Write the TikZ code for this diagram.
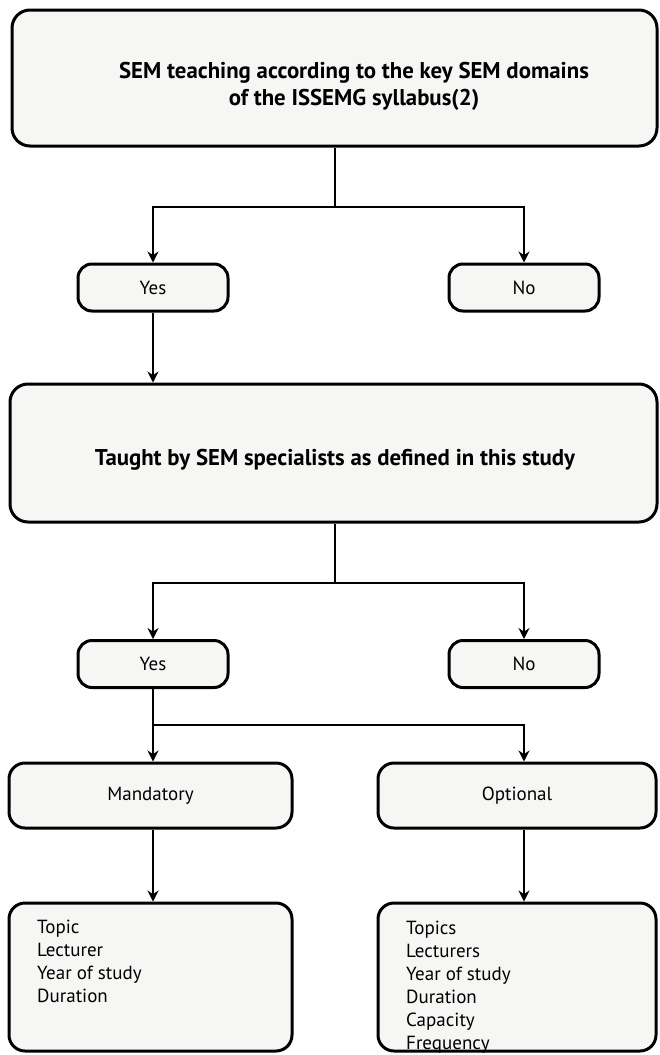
\documentclass[tikz,border=0pt]{standalone}
\usepackage{fontspec}
\setmainfont{PT Sans}
\usetikzlibrary{arrows.meta}
\definecolor{boxfill}{HTML}{F6F6F5}
\begin{document}
\begin{tikzpicture}[x=1pt,y=-1pt,
  box/.style={draw=black, line width=3pt, fill=boxfill, rounded corners=18pt, inner sep=0pt},
  pill/.style={box, rounded corners=14pt, minimum width=150pt, minimum height=47pt},
  mid/.style={box, rounded corners=16pt, minimum height=65pt},
  listbox/.style={box, rounded corners=16pt, minimum height=148pt},
  conn/.style={line width=1.6pt, draw=black},
  arr/.style={conn, -{Stealth[length=11pt,width=11pt]}},
  titlefont/.style={font=\fontsize{22.8}{27}\selectfont\bfseries},
  bodyfont/.style={font=\fontsize{19}{23}\selectfont},
  plain/.style={inner sep=0pt},
]
\useasboundingbox (0,0) rectangle (659,1055);

% boxes
\node[box, minimum width=645pt, minimum height=136pt] (top) at (334.5,78) {};
\node[plain, titlefont, align=center] (toptext) at (354,86.5)
  {SEM teaching according to the key SEM domains\\of the ISSEMG syllabus(2)};
\node[pill, bodyfont] (yes1) at (153,287.5) {Yes};
\node[pill, bodyfont] (no1) at (524,287.5) {No};
\node[box, minimum width=647pt, minimum height=138pt] (taught) at (333.5,453) {};
\node[plain, titlefont] (taughttext) at (335,460)
  {Taught by SEM specialists as defined in this study};
\node[pill, bodyfont] (yes2) at (153,664) {Yes};
\node[pill, bodyfont] (no2) at (524,664) {No};
\node[mid, minimum width=283pt, bodyfont] (mand) at (150.5,795.5) {Mandatory};
\node[mid, minimum width=278pt, bodyfont] (opt) at (517,795.5) {Optional};
\node[listbox, minimum width=283pt] (mlist) at (150.5,977) {};
\node[listbox, minimum width=278pt] (olist) at (517,977) {};

\node[bodyfont, anchor=north west, inner sep=0pt, align=left] (mtext) at (37,919.5)
  {Topic\\Lecturer\\Year of study\\Duration};
\node[bodyfont, anchor=north west, inner sep=0pt, align=left] (otext) at (406,920.5)
  {Topics\\Lecturers\\Year of study\\Duration\\Capacity\\Frequency};

% connectors
\coordinate (j1) at (335,207);
\coordinate (j2) at (335,583);
\coordinate (j3) at (153,725);
\draw[conn] (top.south -| j1) -- (j1);
\draw[arr] (j1) -| (yes1.north);
\draw[arr] (j1) -| (no1.north);
\draw[arr] (yes1.south) -- (yes1.south |- taught.north);
\draw[conn] (taught.south -| j2) -- (j2);
\draw[arr] (j2) -| (yes2.north);
\draw[arr] (j2) -| (no2.north);
\draw[arr] (yes2.south) -- (yes2.south |- mand.north);
\draw[arr] (j3) -| (no2.south |- opt.north);
\draw[arr] (yes2.south |- mand.south) -- (yes2.south |- mlist.north);
\draw[arr] (no2.south |- opt.south) -- (no2.south |- olist.north);
\end{tikzpicture}
\end{document}
